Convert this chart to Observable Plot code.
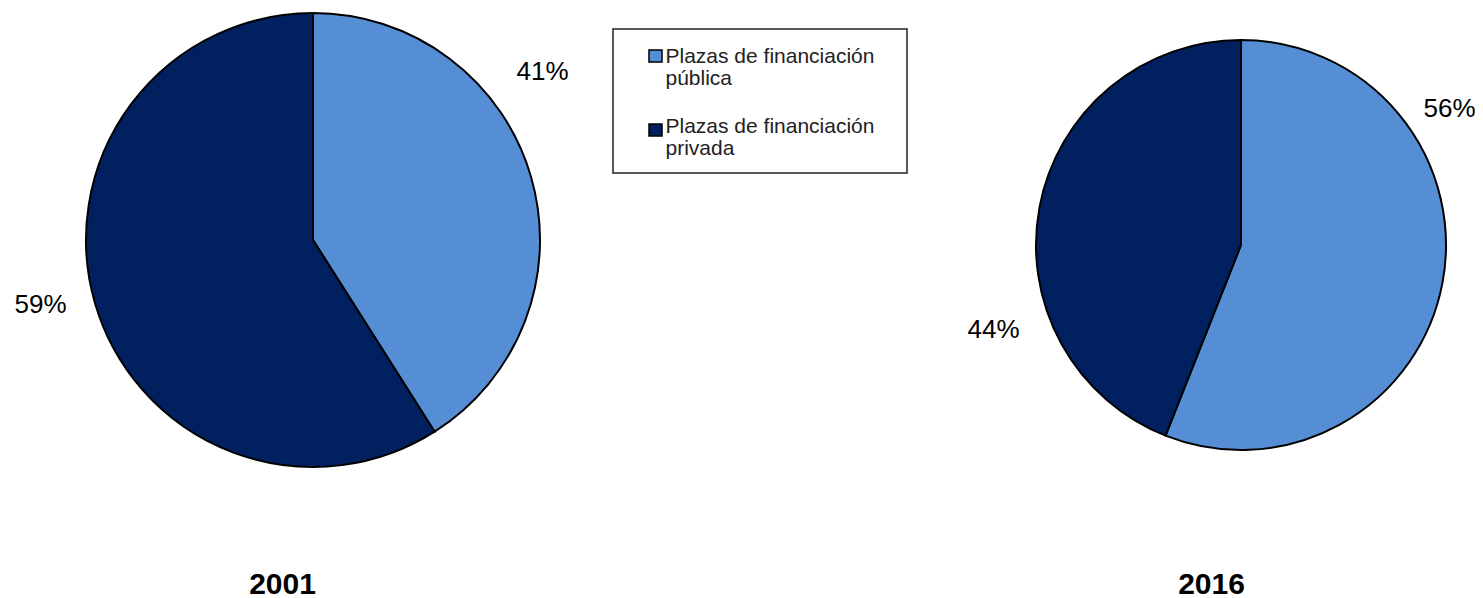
<!DOCTYPE html>
<html>
<head>
<meta charset="utf-8">
<script src="https://cdn.jsdelivr.net/npm/d3@7"></script>
<script src="https://cdn.jsdelivr.net/npm/@observablehq/plot@0.6"></script>
<style>
  html, body { margin: 0; padding: 0; background: #fff; }
  #chart svg { display: block; font-family: "Liberation Sans", Arial, sans-serif; }
</style>
</head>
<body>
<div id="chart"></div>
<script>
// ---- data ----
const years = ["2001", "2016"];
const categories = ["Plazas de financiación pública", "Plazas de financiación privada"];
const legendLabels = ["Plazas de financiación\npública", "Plazas de financiación\nprivada"];
const publicShare = [41, 56];
const privateShare = [59, 44];
const colors = ["#558ED5", "#002060"];

// ---- layout (pixels) ----
const W = 1483, H = 598;
const pieLayout = [{cx: 313, cy: 240, r: 227}, {cx: 1241, cy: 245, r: 205}];
const pctLabelPos = [[[542, 79], [40, 312]], [[1449, 116], [993, 337]]];
const yearLabelPos = [[282, 593], [1211, 593]];
const legendBox = {x1: 613, x2: 907, y1: 29, y2: 173};
const legendItems = [{sx: 649, sy: 50, tx: 665, ty: 47}, {sx: 649, sy: 124, tx: 665, ty: 117}];

const FONT = "Liberation Sans, Arial, sans-serif";

// tables built from the arrays
const pctLabels = [];
years.forEach((yr, i) => {
  [publicShare[i], privateShare[i]].forEach((v, j) => {
    pctLabels.push({text: v + "%", x: pctLabelPos[i][j][0], y: pctLabelPos[i][j][1]});
  });
});
const yearLabels = years.map((yr, i) => ({text: yr, x: yearLabelPos[i][0], y: yearLabelPos[i][1]}));
const legendRows = categories.map((c, j) => ({
  category: c, label: legendLabels[j], color: colors[j],
  sx: legendItems[j].sx, sy: legendItems[j].sy, tx: legendItems[j].tx, ty: legendItems[j].ty
}));

function pies(index, scales) {
  const {x, y} = scales;
  const g = d3.create("svg:g");
  years.forEach((yr, i) => {
    const L = pieLayout[i];
    const cx = x(L.cx), cy = y(L.cy), r = x(L.cx + L.r) - x(L.cx);
    const arcs = d3.pie().sort(null)([publicShare[i], privateShare[i]]);
    const arc = d3.arc().innerRadius(0).outerRadius(r);
    arcs.forEach((a, j) => {
      g.append("path")
        .attr("transform", `translate(${cx},${cy})`)
        .attr("d", arc(a))
        .attr("fill", colors[j])
        .attr("stroke", "#000")
        .attr("stroke-width", 2)
        .attr("stroke-linejoin", "round");
    });
  });
  return g.node();
}

const chart = Plot.plot({
  width: W,
  height: H,
  margin: 0,
  x: {domain: [0, W], range: [0, W], axis: null},
  y: {domain: [0, H], range: [0, H], axis: null},
  marks: [
    pies,
    Plot.text(pctLabels, {x: "x", y: "y", text: "text", fontSize: 26, fontFamily: FONT, fill: "#000", lineAnchor: "bottom"}),
    Plot.text(yearLabels, {x: "x", y: "y", text: "text", fontSize: 30, fontWeight: "bold", fontFamily: FONT, fill: "#000", lineAnchor: "bottom"}),
    Plot.rect([legendBox], {x1: "x1", x2: "x2", y1: "y1", y2: "y2", fill: "#fff", stroke: "#222", strokeWidth: 1.5}),
    Plot.rect(legendRows, {x1: "sx", x2: d => d.sx + 13, y1: "sy", y2: d => d.sy + 12, fill: "color", stroke: "#000", strokeWidth: 1.5}),
    Plot.text(legendRows, {x: "tx", y: "ty", text: "label", textAnchor: "start", lineAnchor: "top", fontSize: 21, lineHeight: 1.05, fontFamily: FONT, fill: "#222"})
  ]
});
document.getElementById("chart").appendChild(chart);
</script>
</body>
</html>
